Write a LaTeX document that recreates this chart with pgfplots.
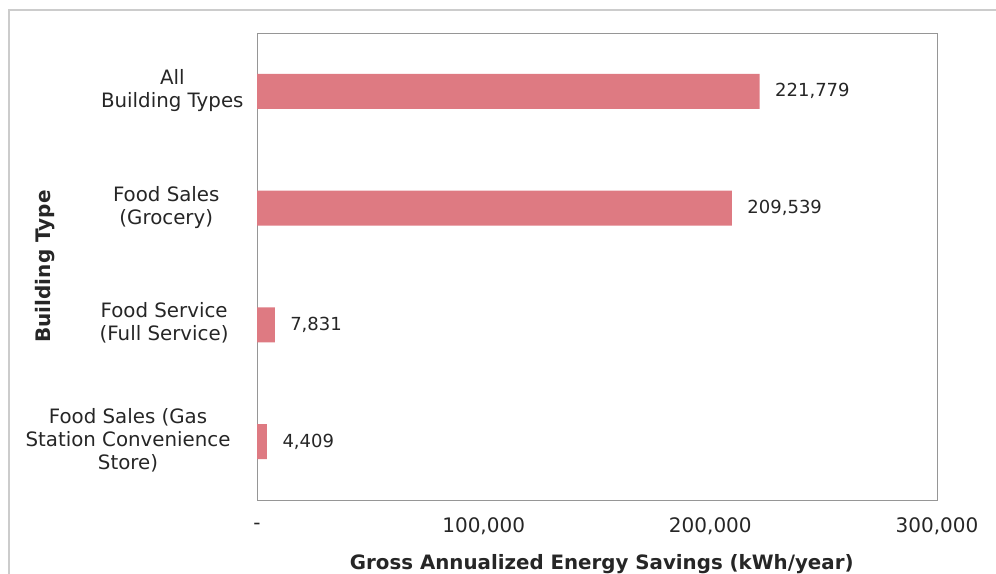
\documentclass[border=0pt]{standalone}
\usepackage{pgfplots}
\pgfplotsset{compat=1.18}
\usepackage{fontspec}
\setmainfont{DejaVu Sans}
\definecolor{barred}{RGB}{222,122,130}
\definecolor{framegray}{RGB}{150,150,150}
\newcommand{\cat}[2]{\begin{tabular}{@{}c@{}}#1\end{tabular}\hspace*{#2}}
\begin{document}
\begin{tikzpicture}[x=1bp,y=1bp]
\path[use as bounding box] (0,0) rectangle (996,574);
\draw[gray!40, line width=1.2bp] (9,0) -- (9,564) -- (996,564);
\begin{axis}[
  at={(257bp,74bp)}, anchor=south west,
  scale only axis, width=680bp, height=467bp,
  xbar, bar width=35bp,
  xmin=0, xmax=300000, ymin=-0.5, ymax=3.5,
  scaled x ticks=false,
  axis line style={framegray, line width=0.8bp},
  major tick length=0pt,
  xtick={0,100000,200000,300000},
  xticklabels={{-},{100,000},{200,000},{300,000}},
  xticklabel style={anchor=center, yshift=-26bp, font=\fontsize{20bp}{24bp}\selectfont, text=black!85},
  ytick={0,1,2,3},
  yticklabels={
    {\cat{Food Sales (Gas\\Station Convenience\\Store)}{23bp}},
    {\cat{Food Service\\(Full Service)}{25bp}},
    {\cat{Food Sales\\(Grocery)}{34bp}},
    {\cat{All\\Building Types}{10bp}}},
  yticklabel style={font=\fontsize{19.8bp}{23bp}\selectfont, text=black!85},
  xlabel={Gross Annualized Energy Savings (kWh/year)},
  xlabel style={at={(axis description cs:0.507,-0.137)}, anchor=center, font=\bfseries\fontsize{19.8bp}{23bp}\selectfont, text=black!85},
  ylabel={Building Type},
  ylabel style={at={(axis description cs:-0.312,0.5)}, anchor=center, font=\bfseries\fontsize{20bp}{23bp}\selectfont, text=black!85},
  nodes near coords,
  nodes near coords style={anchor=west, xshift=12bp, font=\fontsize{18bp}{22bp}\selectfont, text=black!85,
    /pgf/number format/.cd, fixed, precision=0, assume math mode=true, 1000 sep={,}},
]
\addplot[draw=none, fill=barred] coordinates {(4409,0) (7831,1) (209539,2) (221779,3)};
\end{axis}
\end{tikzpicture}
\end{document}
